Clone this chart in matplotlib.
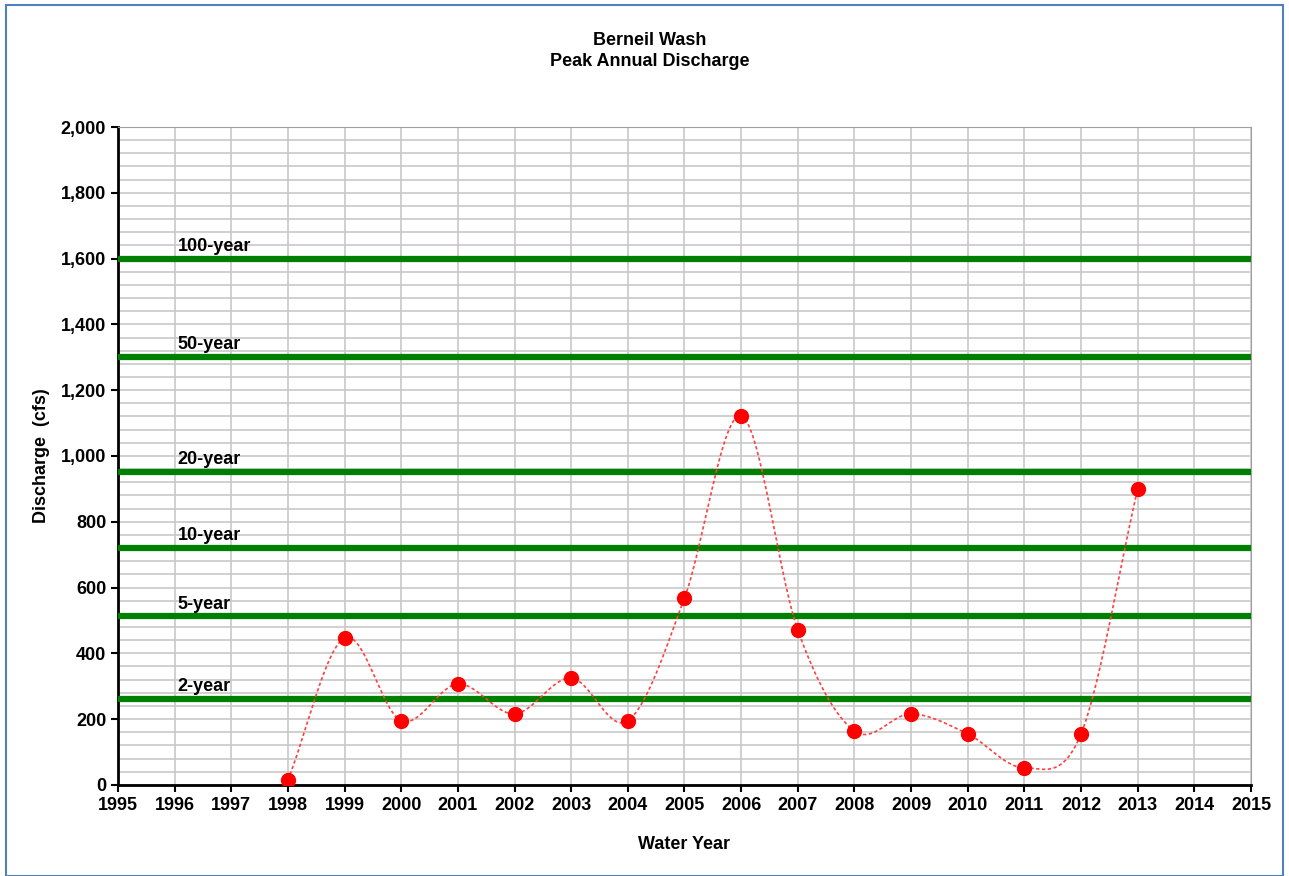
import matplotlib.pyplot as plt
import numpy as np
from matplotlib.ticker import MultipleLocator, FuncFormatter
from matplotlib.patches import Rectangle

plt.rcParams['font.family'] = ['Liberation Sans', 'DejaVu Sans']

# peak annual discharge (cfs)
years = [1998, 1999, 2000, 2001, 2002, 2003, 2004, 2005, 2006, 2007,
         2008, 2009, 2010, 2011, 2012, 2013]
peaks = [15, 447, 195, 307, 216, 325, 195, 568, 1122, 471,
         164, 216, 155, 52, 155, 900]

# flood frequency levels
levels = ['100-year', '50-year', '20-year', '10-year', '5-year', '2-year']
level_q = [1600, 1300, 952, 720, 512, 260]


def smooth(x, y, n=30):
    # Excel-like smoothed line (Catmull-Rom)
    x = np.asarray(x, float)
    y = np.asarray(y, float)
    px = np.concatenate([[2 * x[0] - x[1]], x, [2 * x[-1] - x[-2]]])
    py = np.concatenate([[2 * y[0] - y[1]], y, [2 * y[-1] - y[-2]]])
    xs, ys = [], []
    t = np.linspace(0, 1, n)
    for i in range(1, len(px) - 2):
        for p, out in ((px, xs), (py, ys)):
            p0, p1, p2, p3 = p[i - 1], p[i], p[i + 1], p[i + 2]
            out.extend(0.5 * (2 * p1 + (-p0 + p2) * t
                              + (2 * p0 - 5 * p1 + 4 * p2 - p3) * t ** 2
                              + (-p0 + 3 * p1 - 3 * p2 + p3) * t ** 3))
    return xs, ys


fs = 13
fig = plt.figure(figsize=(12.89, 8.76), dpi=100)
fig.patches.append(Rectangle((0.005, 0.0), 0.99, 0.994, transform=fig.transFigure,
                             fill=False, edgecolor='#4F81BD', linewidth=1.5))
ax = fig.add_axes([0.0915, 0.104, 0.879, 0.751])

ax.set_xlim(1995, 2015)
ax.set_ylim(0, 2000)
ax.xaxis.set_major_locator(MultipleLocator(1))
ax.yaxis.set_major_locator(MultipleLocator(200))
ax.yaxis.set_minor_locator(MultipleLocator(40))
ax.yaxis.set_major_formatter(FuncFormatter(lambda v, p: f'{int(v):,}'))
ax.grid(True, which='both', color='#C8C8C8', linewidth=1.2)
ax.set_axisbelow(True)

for sp in ['top', 'right']:
    ax.spines[sp].set_color('#A0A0A0')
for sp in ['left', 'bottom']:
    ax.spines[sp].set_linewidth(2)
ax.tick_params(which='major', direction='out', length=5, width=1.5,
               labelsize=fs)
ax.tick_params(which='minor', length=0)
for lab in ax.get_xticklabels() + ax.get_yticklabels():
    lab.set_fontweight('bold')

for name, q in zip(levels, level_q):
    ax.axhline(q, color='#008000', linewidth=4.5, zorder=3)
    ax.text(1996.05, q + 12, name, fontsize=fs, fontweight='bold',
            va='bottom', ha='left', zorder=4)

sx, sy = smooth(years, peaks)
ax.plot(sx, sy, color='#FF4040', linestyle=(0, (2, 1.5)), linewidth=1.2,
        zorder=5)
ax.plot(years, peaks, 'o', color='#FF0000', markersize=10, zorder=6)

ax.set_xlabel('Water Year', fontsize=fs, fontweight='bold', labelpad=16)
ax.set_ylabel('Discharge  (cfs)', fontsize=fs, fontweight='bold', labelpad=8)
fig.text(0.504, 0.942, 'Berneil Wash\nPeak Annual Discharge', ha='center',
         va='center', fontsize=fs, fontweight='bold', linespacing=1.3)

fig.savefig('out.png', dpi=100)
